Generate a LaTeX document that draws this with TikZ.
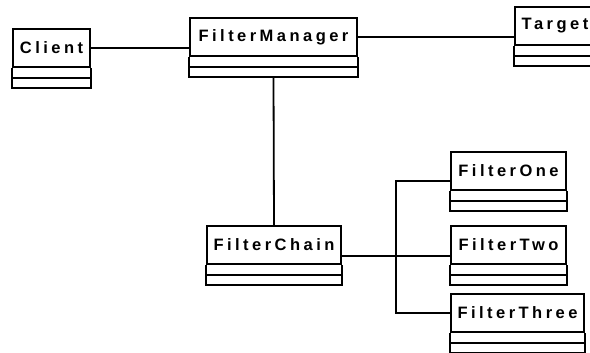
\documentclass[tikz,border=0pt]{standalone}
\usepackage{fontspec}
\setmainfont{Liberation Sans}
\newfontfamily\umlfont{Liberation Sans}[LetterSpace=21]
\usetikzlibrary{positioning}

\begin{document}
\begin{tikzpicture}[
    x=1pt, y=-1pt,
    classbox/.style={draw, line width=1.8pt, minimum height=38pt, inner sep=0pt, font=\umlfont\fontsize{16.5}{19}\selectfont\bfseries},
    link/.style={line width=1.8pt}
]
    \useasboundingbox (0,0) rectangle (590,353);
    \clip (0,0) rectangle (590,353);

    % class headers
    \node[classbox, minimum width=77pt] (client) at (51.5,48) {Client};
    \node[classbox, minimum width=167pt] (manager) at (273.5,37) {FilterManager};
    \node[classbox, minimum width=80pt] (target) at (555,26) {Target};
    \node[classbox, minimum width=134pt] (chain) at (274,245) {FilterChain};
    \node[classbox, minimum width=115pt] (one) at (508.5,171) {FilterOne};
    \node[classbox, minimum width=115pt] (two) at (508.5,245) {FilterTwo};
    \node[classbox, minimum width=133pt] (three) at (517.5,313) {FilterThree};

    % empty compartments
    \foreach \n in {client,manager,target,chain,one,two,three} {
        \draw[link] (\n.south west) -- ([yshift=-20pt]\n.south west) -- ([yshift=-20pt]\n.south east) -- (\n.south east);
        \draw[link] ([yshift=-10pt]\n.south west) -- ([yshift=-10pt]\n.south east);
    }

    % associations
    \draw[link] (client.east) -- (client.east -| manager.west);
    \draw[link] (manager.east) -- (manager.east -| target.west);
    \draw[link] ([yshift=-20pt]manager.south) -- (chain.north);

    \coordinate (bus) at (396,256);
    \draw[link] ([yshift=-11pt]chain.east) -- ([yshift=-11pt]two.west);
    \draw[link] ([yshift=-10pt]one.west) -| (bus |- three.west) -- (three.west);
\end{tikzpicture}
\end{document}
